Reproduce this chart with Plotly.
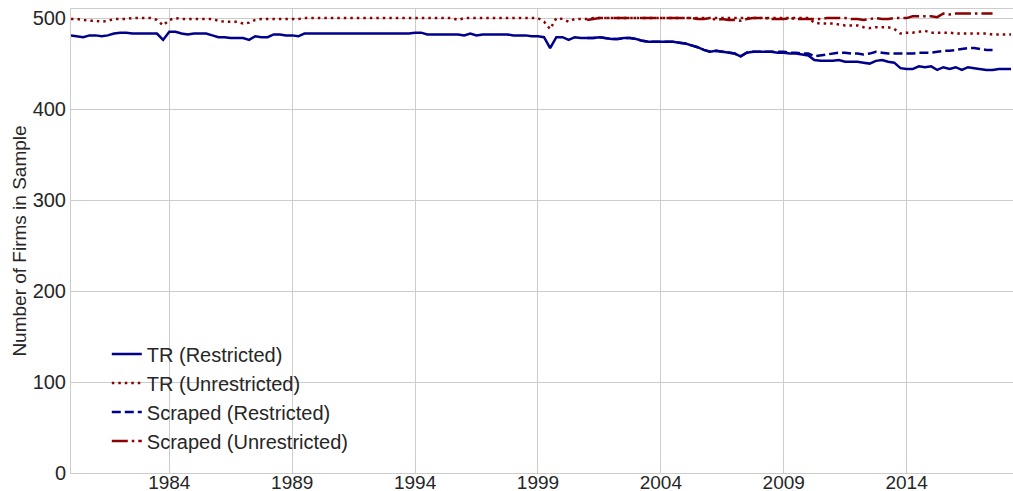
import pandas as pd
import plotly.graph_objects as go

# Quarterly sample counts, 1980Q1 - 2018Q2
tr_restricted = [
    481, 480, 479, 481,   # 1980
    481, 480, 481, 483,   # 1981
    484, 484, 483, 483,   # 1982
    483, 483, 483, 476,   # 1983
    485, 485, 483, 482,   # 1984
    483, 483, 483, 481,   # 1985
    479, 479, 478, 478,   # 1986
    478, 476, 480, 479,   # 1987
    479, 482, 482, 481,   # 1988
    481, 480, 483, 483,   # 1989
    483, 483, 483, 483,   # 1990
    483, 483, 483, 483,   # 1991
    483, 483, 483, 483,   # 1992
    483, 483, 483, 483,   # 1993
    484, 484, 482, 482,   # 1994
    482, 482, 482, 482,   # 1995
    481, 483, 481, 482,   # 1996
    482, 482, 482, 482,   # 1997
    481, 481, 481, 480,   # 1998
    480, 479, 467, 479,   # 1999
    479, 476, 479, 478,   # 2000
    478, 478, 479, 478,   # 2001
    477, 477, 478, 478,   # 2002
    477, 475, 474, 474,   # 2003
    474, 474, 474, 473,   # 2004
    472, 470, 468, 465,   # 2005
    463, 464, 463, 462,   # 2006
    461, 458, 462, 463,   # 2007
    463, 463, 463, 462,   # 2008
    462, 461, 461, 460,   # 2009
    459, 454, 453, 453,   # 2010
    453, 454, 452, 452,   # 2011
    452, 451, 450, 453,   # 2012
    454, 452, 451, 445,   # 2013
    444, 444, 447, 446,   # 2014
    447, 443, 446, 444,   # 2015
    446, 443, 446, 445,   # 2016
    444, 443, 443, 444,   # 2017
    444, 444,             # 2018
]

tr_unrestricted = [
    499, 499, 498, 497,   # 1980
    497, 496, 497, 499,   # 1981
    499, 499, 500, 500,   # 1982
    500, 500, 498, 492,   # 1983
    498, 500, 499, 499,   # 1984
    499, 499, 499, 499,   # 1985
    497, 496, 496, 496,   # 1986
    494, 495, 498, 499,   # 1987
    499, 499, 499, 499,   # 1988
    499, 499, 500, 500,   # 1989
    500, 500, 500, 500,   # 1990
    500, 500, 500, 500,   # 1991
    500, 500, 500, 500,   # 1992
    500, 500, 500, 500,   # 1993
    500, 500, 500, 500,   # 1994
    500, 500, 500, 498,   # 1995
    500, 500, 500, 500,   # 1996
    500, 500, 500, 500,   # 1997
    500, 500, 500, 500,   # 1998
    500, 496, 488, 500,   # 1999
    499, 496, 499, 499,   # 2000
    499, 500, 500, 500,   # 2001
    500, 500, 500, 500,   # 2002
    500, 500, 500, 500,   # 2003
    500, 500, 500, 500,   # 2004
    500, 500, 500, 500,   # 2005
    500, 500, 500, 500,   # 2006
    500, 500, 500, 500,   # 2007
    500, 500, 500, 500,   # 2008
    500, 500, 500, 500,   # 2009
    500, 495, 494, 494,   # 2010
    494, 493, 492, 492,   # 2011
    492, 490, 489, 490,   # 2012
    490, 490, 488, 483,   # 2013
    484, 484, 485, 486,   # 2014
    484, 484, 484, 484,   # 2015
    483, 483, 483, 483,   # 2016
    483, 483, 482, 482,   # 2017
    482, 482,             # 2018
]

# Scraped samples, 2001Q1 - 2017Q3
scraped_restricted = [
    478, 478, 479, 478,   # 2001
    477, 477, 478, 478,   # 2002
    477, 475, 474, 474,   # 2003
    474, 474, 474, 473,   # 2004
    472, 470, 468, 465,   # 2005
    463, 464, 463, 462,   # 2006
    461, 458, 462, 463,   # 2007
    463, 463, 463, 463,   # 2008
    463, 462, 462, 461,   # 2009
    461, 458, 459, 460,   # 2010
    461, 462, 462, 461,   # 2011
    461, 460, 461, 463,   # 2012
    462, 461, 461, 461,   # 2013
    461, 461, 462, 462,   # 2014
    462, 463, 464, 464,   # 2015
    465, 466, 467, 467,   # 2016
    466, 465, 465,        # 2017
]

scraped_unrestricted = [
    498, 499, 500, 500,   # 2001
    500, 500, 500, 500,   # 2002
    500, 500, 500, 500,   # 2003
    500, 500, 500, 500,   # 2004
    500, 500, 499, 499,   # 2005
    500, 498, 499, 498,   # 2006
    498, 497, 499, 500,   # 2007
    500, 500, 499, 499,   # 2008
    499, 500, 499, 499,   # 2009
    499, 499, 499, 500,   # 2010
    500, 500, 500, 499,   # 2011
    499, 498, 499, 500,   # 2012
    499, 499, 500, 500,   # 2013
    500, 502, 502, 502,   # 2014
    502, 501, 505, 504,   # 2015
    505, 505, 505, 505,   # 2016
    505, 505, 505,        # 2017
]

tick_years = [1984, 1989, 1994, 1999, 2004, 2009, 2014]

tr_dates = pd.date_range("1980-01-01", periods=len(tr_restricted), freq="QS")
scraped_dates = pd.date_range("2001-01-01", periods=len(scraped_restricted), freq="QS")

BLUE = "#00008b"
RED = "#8b0000"
GRID = "#cccccc"
FONT = "Liberation Sans, Arial, sans-serif"
LW = 2.5

fig = go.Figure()
fig.add_trace(go.Scatter(x=tr_dates, y=tr_restricted, mode="lines",
                         name="TR (Restricted)",
                         line=dict(color=BLUE, width=LW)))
fig.add_trace(go.Scatter(x=tr_dates, y=tr_unrestricted, mode="lines",
                         name="TR (Unrestricted)",
                         line=dict(color=RED, width=LW, dash="2.5px,4px")))
fig.add_trace(go.Scatter(x=scraped_dates, y=scraped_restricted, mode="lines",
                         name="Scraped (Restricted)",
                         line=dict(color=BLUE, width=LW, dash="9px,4px")))
fig.add_trace(go.Scatter(x=scraped_dates, y=scraped_unrestricted, mode="lines",
                         name="Scraped (Unrestricted)",
                         line=dict(color=RED, width=LW, dash="16px,4px,2.5px,4px")))

fig.update_layout(
    width=1013, height=491,
    margin=dict(l=71, r=0, t=9, b=18),
    paper_bgcolor="white", plot_bgcolor="white",
    font=dict(family=FONT, size=20, color="#262626"),
    showlegend=True,
    legend=dict(x=0.038, y=0.027, xanchor="left", yanchor="bottom",
                bgcolor="rgba(0,0,0,0)", borderwidth=0,
                font=dict(size=20, color="#262626")),
)
fig.update_xaxes(
    range=["1980-01-01", "2018-05-01"],
    tickvals=[f"{y}-01-01" for y in tick_years],
    ticktext=[str(y) for y in tick_years],
    showgrid=True, gridcolor=GRID, gridwidth=1,
    showline=True, linecolor=GRID, linewidth=1, mirror=True,
    ticks="", zeroline=False, automargin=False,
    tickfont=dict(size=19), ticklabelstandoff=-8,
)
fig.update_yaxes(
    range=[0, 510],
    tickvals=[0, 100, 200, 300, 400, 500],
    showgrid=True, gridcolor=GRID, gridwidth=1,
    showline=True, linecolor=GRID, linewidth=1, mirror=True,
    ticks="", zeroline=False, automargin=False,
    tickfont=dict(size=20),
    title=dict(text="Number of Firms in Sample", font=dict(size=19), standoff=0),
)

fig.write_html("out.html")
